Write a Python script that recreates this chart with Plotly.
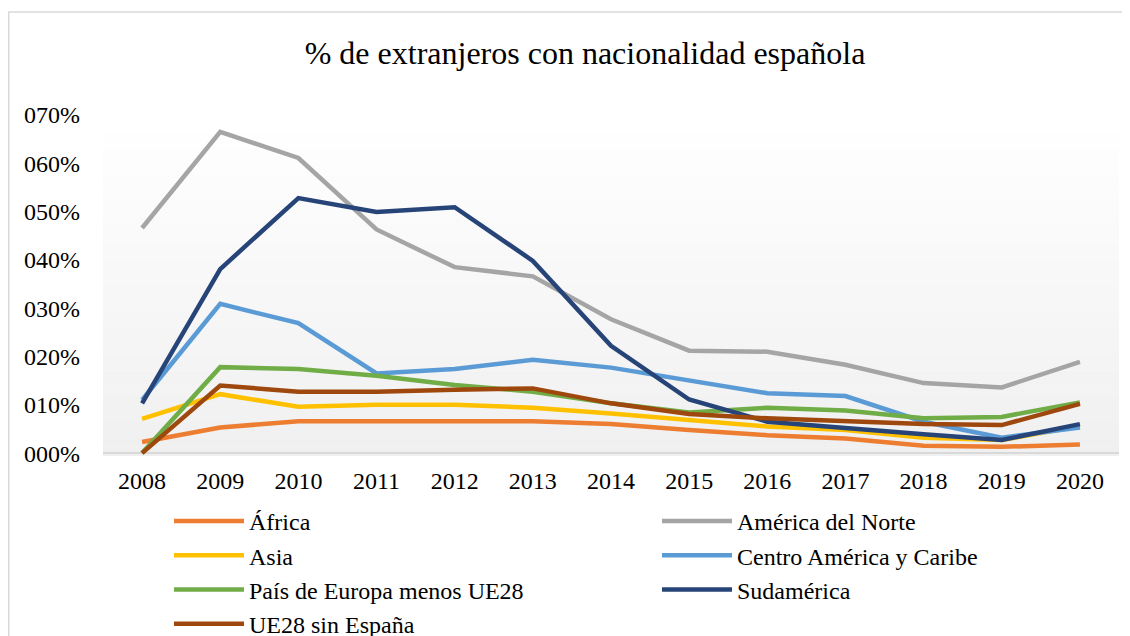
import plotly.graph_objects as go

# data (values in "%" label units)
years = [str(y) for y in range(2008, 2021)]

africa = [2.3, 5.3, 6.6, 6.5, 6.6, 6.6, 6.0, 4.8, 3.7, 3.0, 1.5, 1.3, 1.8]
america_norte = [46.6, 66.5, 61.1, 46.3, 38.5, 36.6, 27.7, 21.2, 21.0, 18.3, 14.5, 13.6, 18.9]
asia = [7.1, 12.2, 9.6, 10.0, 10.0, 9.4, 8.2, 6.8, 5.5, 4.8, 3.2, 2.7, 5.6]
centro_america = [11.0, 30.9, 26.9, 16.5, 17.4, 19.3, 17.7, 15.1, 12.4, 11.8, 6.5, 3.2, 5.3]
europa_no_ue = [0.0, 17.8, 17.4, 16.0, 14.1, 12.7, 10.3, 8.4, 9.4, 8.8, 7.2, 7.5, 10.5]
sudamerica = [10.3, 38.1, 52.8, 49.9, 50.9, 39.8, 22.2, 11.1, 6.5, 5.1, 3.9, 2.7, 6.0]
ue28 = [0.0, 14.0, 12.7, 12.7, 13.1, 13.4, 10.3, 8.1, 7.2, 6.6, 6.0, 5.8, 10.2]

y_ticks = [0, 10, 20, 30, 40, 50, 60, 70]

series = [
    ("África", africa, "#ED7D31"),
    ("América del Norte", america_norte, "#A5A5A5"),
    ("Asia", asia, "#FFC000"),
    ("Centro América y Caribe", centro_america, "#5B9BD5"),
    ("País de Europa menos UE28", europa_no_ue, "#70AD47"),
    ("Sudamérica", sudamerica, "#264478"),
    ("UE28 sin España", ue28, "#9E480E"),
]

FONT = "Liberation Serif, Times New Roman, serif"

# the page body adds an 8px offset, so the figure is 8px smaller than the window
W, H = 1122, 628

fig = go.Figure()

for name, vals, color in series:
    fig.add_trace(go.Scatter(
        x=years,
        y=vals,
        mode='lines',
        name=name,
        line=dict(color=color, width=4.5),
    ))

# soft vertical gradient in the plot area (white at top, light grey at bottom)
n_bands = 40
for i in range(n_bands):
    t = i / (n_bands - 1)
    g = int(round(240 + (255 - 240) * t))
    fig.add_shape(
        type='rect', xref='x domain', yref='y domain',
        x0=0, x1=1, y0=i / n_bands, y1=(i + 1) / n_bands + 0.001,
        fillcolor=f'rgb({g},{g},{g})', line=dict(width=0), layer='below'
    )

# chart area border (only top/left edges fall inside the picture)
fig.add_shape(
    type='rect', xref='paper', yref='paper',
    x0=-0.0928, x1=1.2, y0=-1.0, y1=1.302,
    line=dict(color='#d9d9d9', width=1.5), fillcolor='rgba(0,0,0,0)'
)

fig.update_layout(
    width=W,
    height=H,
    margin=dict(l=95, r=11, t=107, b=180),
    paper_bgcolor='white',
    plot_bgcolor='white',
    font=dict(family=FONT, color='black', size=24),
    title=dict(
        text="% de extranjeros con nacionalidad española",
        x=577 / W, xanchor='center',
        y=1 - 45 / H, yanchor='middle',
        font=dict(family=FONT, size=32, color='black')
    ),
    xaxis=dict(
        type='category',
        range=[-0.5, 12.5],
        showgrid=False,
        showline=False,
        zeroline=False,
        ticks='',
        tickfont=dict(size=24),
        ticklabelstandoff=8,
        automargin=False,
    ),
    yaxis=dict(
        range=[-0.6, 70],
        tickvals=y_ticks,
        ticktext=[f"{v:03d}%" for v in y_ticks],
        showgrid=False,
        showline=False,
        zeroline=True,
        zerolinecolor='#d9d9d9',
        zerolinewidth=2,
        ticks='',
        tickfont=dict(size=24),
        ticklabelstandoff=22,
        automargin=False,
    ),
    legend=dict(
        orientation='h',
        xref='container', yref='container',
        x=161 / W, xanchor='left',
        y=1 - 491 / H, yanchor='top',
        entrywidth=403,
        itemwidth=70,
        font=dict(size=24, family=FONT),
        bgcolor='rgba(0,0,0,0)',
    ),
    showlegend=True,
)

fig.write_html("out.html")
